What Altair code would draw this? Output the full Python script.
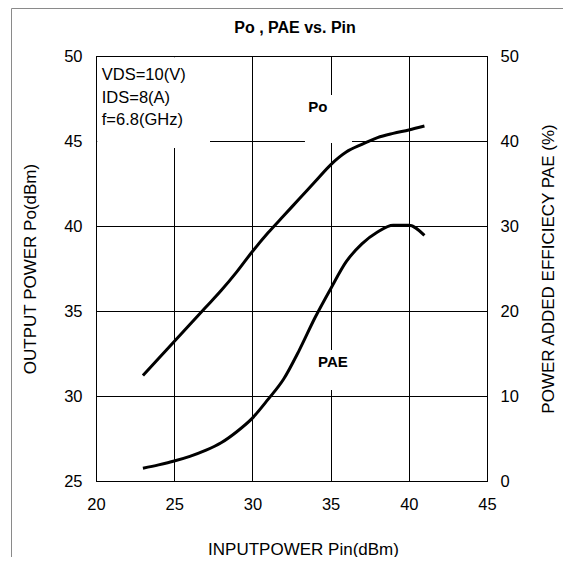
import altair as alt
import pandas as pd

# ---- data ----
pin = [23, 24, 25, 26, 27, 28, 29, 30, 31, 32, 33, 34, 35, 36, 37, 38, 39, 40, 41]
po = [31.2, 32.2, 33.2, 34.2, 35.2, 36.2, 37.3, 38.5, 39.6, 40.6, 41.6, 42.6, 43.6,
      44.35, 44.8, 45.2, 45.45, 45.65, 45.88]
pae = [1.5, 1.9, 2.35, 2.9, 3.6, 4.5, 5.8, 7.4, 9.6, 12.0, 15.4, 19.2, 22.6,
       25.8, 27.9, 29.3, 30.1, 30.1, 28.9]

x_ticks = [20, 25, 30, 35, 40, 45]
po_ticks = [25, 30, 35, 40, 45, 50]
pae_ticks = [0, 10, 20, 30, 40, 50]

# annotation texts (position in data units: Pin, Po)
note_text = ["VDS=10(V)", "IDS=8(A)", "f=6.8(GHz)"]
note_x = [20.37, 20.37, 20.37]
note_y = [48.88, 47.51, 46.24]

label_text = ["Po", "PAE"]
label_x = [34.19, 35.15]
label_y = [47.0, 32.0]

# white backing boxes behind the annotations (data units)
box_x0 = [20.08, 33.36, 33.36]
box_x1 = [27.29, 36.37, 36.88]
box_y0 = [44.59, 44.88, 30.35]
box_y1 = [49.92, 47.7, 32.7]

FONT = "Liberation Sans"
W, H = 391, 425
PAD = {"left": 88, "top": 48, "right": 76, "bottom": 76}

df_po = pd.DataFrame({"pin": pin, "po": po})
df_pae = pd.DataFrame({"pin": pin, "pae": pae})
df_note = pd.DataFrame({"pin": note_x, "y": note_y, "t": note_text})
df_lab = pd.DataFrame({"pin": label_x, "y": label_y, "t": label_text})
df_box = pd.DataFrame({"pin": box_x0, "x1": box_x1, "y0": box_y0, "y1": box_y1})

x_scale = alt.Scale(domain=[20, 45], nice=False, zero=False)
po_scale = alt.Scale(domain=[25, 50], nice=False, zero=False)
pae_scale = alt.Scale(domain=[0, 50], nice=False, zero=False)

x_axis = alt.Axis(
    values=x_ticks, grid=True, gridColor="black", gridWidth=1, gridOpacity=1,
    domain=True, domainColor="black", domainWidth=1,
    ticks=False, tickSize=0, labelPadding=15, labelFlush=False,
    labelFont=FONT, labelFontSize=16.5, labelColor="black",
    titleFont=FONT, titleFontSize=17,
    titleFontWeight="normal", titleColor="black",
    titleX=207, titleY=68, titleAlign="center", titleBaseline="middle", titleAngle=0,
)
X_TITLE = "INPUTPOWER Pin(dBm)"

left_axis = alt.Axis(
    orient="left", values=po_ticks, grid=True, gridColor="black", gridWidth=1,
    gridOpacity=1, domain=True, domainColor="black", domainWidth=1,
    ticks=False, tickSize=0, labelPadding=14, labelFlush=False,
    labelFont=FONT, labelFontSize=16.5, labelColor="black",
    title="OUTPUT POWER Po(dBm)", titleFont=FONT, titleFontSize=17,
    titleFontWeight="normal", titleColor="black",
    titleX=-66, titleY=212.5, titleAngle=270, titleAlign="center",
    titleBaseline="middle",
)

right_axis = alt.Axis(
    orient="right", values=pae_ticks, grid=False, domain=True,
    domainColor="black", domainWidth=1, ticks=False,
    tickSize=0, labelPadding=13, labelFlush=False, labelFont=FONT,
    labelFontSize=16.5, labelColor="black",
    title="POWER ADDED EFFICIECY PAE (%)", titleFont=FONT, titleFontSize=17,
    titleFontWeight="normal", titleColor="black",
    titleX=61, titleY=212.5, titleAngle=270, titleAlign="center",
    titleBaseline="middle",
)


def xenc():
    return alt.X("pin:Q", scale=x_scale, axis=x_axis, title=X_TITLE)


# light outer frame of the figure (left and top edges)
frame_left = alt.Chart().mark_rule(color="#8a8a8a", strokeWidth=1).encode(
    x=alt.value(-84.5), y=alt.value(-47.5), y2=alt.value(H + PAD["bottom"])
)
frame_top = alt.Chart().mark_rule(color="#8a8a8a", strokeWidth=1).encode(
    y=alt.value(-47.5), x=alt.value(-84.5), x2=alt.value(W + PAD["right"])
)

boxes = alt.Chart(df_box).mark_rect(color="white", opacity=1).encode(
    x=xenc(),
    x2="x1:Q",
    y=alt.Y("y0:Q", scale=po_scale, axis=left_axis),
    y2="y1:Q",
)

po_line = alt.Chart(df_po).mark_line(
    color="black", strokeWidth=3, interpolate="monotone"
).encode(
    x=xenc(),
    y=alt.Y("po:Q", scale=po_scale, axis=None),
)

pae_line = alt.Chart(df_pae).mark_line(
    color="black", strokeWidth=3, interpolate="monotone"
).encode(
    x=xenc(),
    y=alt.Y("pae:Q", scale=pae_scale, axis=right_axis),
)

notes = alt.Chart(df_note).mark_text(
    align="left", baseline="middle", font=FONT, fontSize=16.5, color="black"
).encode(
    x=xenc(),
    y=alt.Y("y:Q", scale=po_scale, axis=None),
    text="t:N",
)

labels = alt.Chart(df_lab).mark_text(
    align="center", baseline="middle", font=FONT, fontSize=15,
    fontWeight="bold", color="black"
).encode(
    x=xenc(),
    y=alt.Y("y:Q", scale=po_scale, axis=None),
    text="t:N",
)

chart = alt.layer(
    boxes, po_line, pae_line, notes, labels, frame_left, frame_top
).resolve_scale(
    y="independent"
).properties(
    width=W,
    height=H,
    autosize=alt.AutoSizeParams(type="none"),
    padding=PAD,
    background="white",
    title=alt.TitleParams(
        "Po , PAE vs. Pin", font=FONT, fontSize=16, fontWeight="bold",
        color="black", anchor="middle", frame="group", offset=0, dx=3.5, dy=28,
    ),
).configure_view(
    stroke="black", strokeWidth=1, fill="white"
)

chart.save("out.html", embed_options={"renderer": "svg", "actions": False})
